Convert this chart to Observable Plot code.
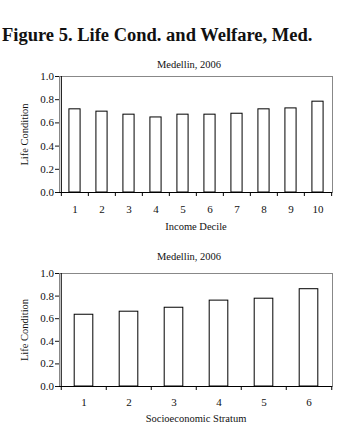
<!DOCTYPE html>
<html><head><meta charset="utf-8">
<script src="https://cdn.jsdelivr.net/npm/d3@7"></script>
<script src="https://cdn.jsdelivr.net/npm/@observablehq/plot@0.6"></script>
<style>
body{margin:0;background:#fff;width:361px;height:435px;position:relative;overflow:hidden;font-family:"Liberation Serif","Times New Roman",serif;}
#title{position:absolute;left:2px;top:25px;font-size:18.5px;line-height:20px;font-weight:bold;color:#111;white-space:nowrap;}
.chart{position:absolute;left:0;}
.chart svg, .chart svg text{font-family:"Liberation Serif","Times New Roman",serif !important;}
</style></head><body>
<div id="title">Figure 5. Life Cond. and Welfare, Med.</div>
<div id="c1" class="chart" style="top:50px"></div>
<div id="c2" class="chart" style="top:240px"></div>
<script>
const subtitle = "Medellin, 2006";
const yLabel = "Life Condition";
const yTicks = [0, 0.2, 0.4, 0.6, 0.8, 1.0];
const deciles = ["1","2","3","4","5","6","7","8","9","10"];
const decileValues = [0.717, 0.697, 0.671, 0.647, 0.671, 0.671, 0.679, 0.717, 0.725, 0.783];
const decileLabel = "Income Decile";
const strata = ["1","2","3","4","5","6"];
const strataValues = [0.635, 0.662, 0.697, 0.760, 0.777, 0.861];
const strataLabel = "Socioeconomic Stratum";

const FF = "Liberation Serif, Times New Roman, serif";

function chart({cats, vals, xLabel, height, mt, mb, subDy, tickPad, labelOff}) {
  const W = 361, ml = 59, mr = 29;
  const bw = (W - ml - mr) / cats.length;
  const barW = bw * 0.42;
  const inset = (bw - barW) / 2;
  const data = cats.map((c, i) => ({c, v: vals[i]}));
  return Plot.plot({
    width: W, height, marginLeft: ml, marginRight: mr, marginTop: mt, marginBottom: mb,
    style: `font-size: 11px; color: #111; background: white;`,
    x: {type: "band", domain: cats, paddingInner: 0, paddingOuter: 0},
    y: {domain: [0, 1]},
    marks: [
      Plot.frame({stroke: "#888"}),
      Plot.barY(data, {x: "c", y: "v", fill: "white", stroke: "black", strokeWidth: 1, insetLeft: inset, insetRight: inset}),
      Plot.ruleY([0], {stroke: "black"}),
      Plot.ruleX([cats[0]], {x: d => d, dx: -bw / 2, y1: 0, y2: 1, stroke: "black"}),
      Plot.ruleX(cats, {x: d => d, dx: -bw / 2, y1: 0, y2: 0, insetBottom: -4, stroke: "black"}),
      Plot.ruleX([cats[cats.length - 1]], {x: d => d, dx: bw / 2, y1: 0, y2: 0, insetBottom: -4, stroke: "black"}),
      Plot.axisY({ticks: yTicks, tickFormat: d3.format(".1f"), tickSize: 4, tickPadding: 1.5, fontSize: 11, label: null}),
      Plot.axisY({ticks: [], label: yLabel, labelAnchor: "center", labelOffset: 39, labelArrow: false, fontSize: 10.5}),
      Plot.axisX({tickSize: 0, tickPadding: tickPad, fontSize: 11, label: null}),
      Plot.axisX({ticks: [], label: xLabel, labelAnchor: "center", labelOffset: labelOff, labelArrow: false, fontSize: 10.5}),
      Plot.text([subtitle], {frameAnchor: "top", dy: subDy, dx: -7, text: d => d, fontSize: 10.5})
    ]
  });
}

document.getElementById("c1").append(chart({cats: deciles, vals: decileValues, xLabel: decileLabel, height: 185, mt: 26, mb: 43, subDy: -16, tickPad: 13, labelOff: 37}));
document.getElementById("c2").append(chart({cats: strata, vals: strataValues, xLabel: strataLabel, height: 190, mt: 33, mb: 44, subDy: -21, tickPad: 12, labelOff: 35}));
</script>
</body></html>
